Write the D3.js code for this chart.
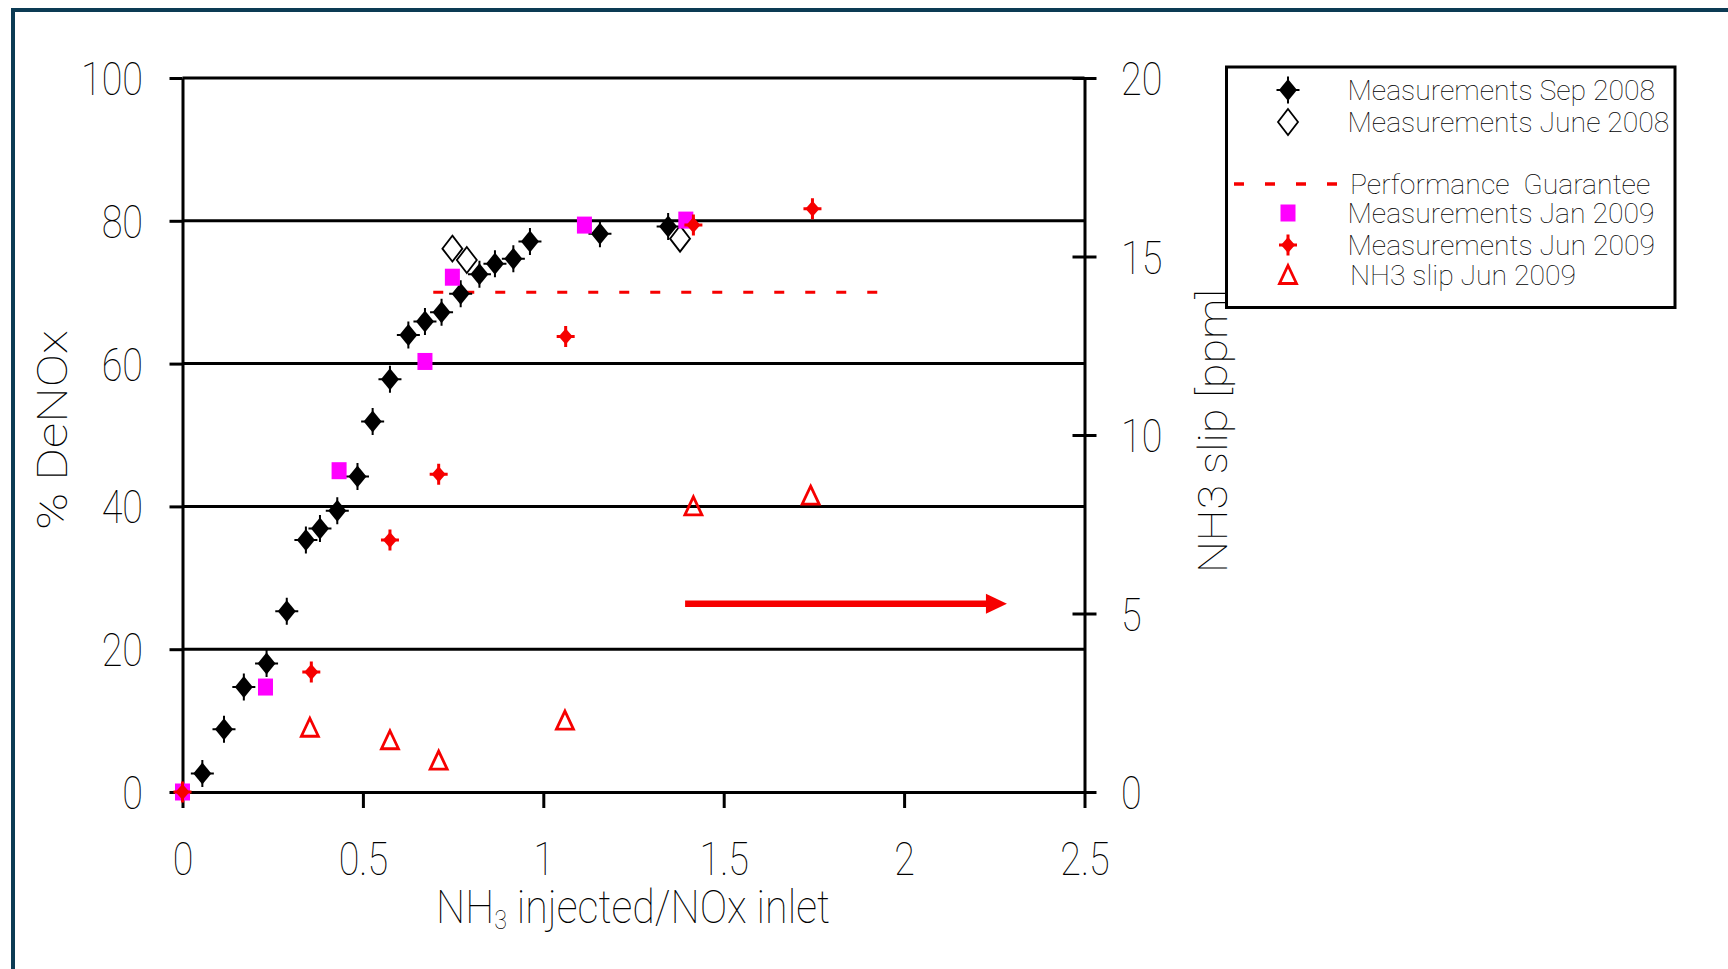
<!DOCTYPE html>
<html>
<head>
<meta charset="utf-8">
<script src="https://cdn.jsdelivr.net/npm/d3@7"></script>
<style>
  html, body { margin: 0; padding: 0; background: #fff; }
  svg text { font-family: Roboto, "Liberation Sans", Arial, sans-serif; font-weight: 100; fill: #000; }
</style>
</head>
<body>
<svg id="chart" width="1728" height="969"></svg>
<script>
// ---- data -------------------------------------------------------------
const xTicks = [0, 0.5, 1, 1.5, 2, 2.5];
const yTicks = [0, 20, 40, 60, 80, 100];
const slipTicks = [0, 5, 10, 15, 20];

// [NH3 injected / NOx inlet, % DeNOx]
const sep2008 = [[0.055, 2.6], [0.115, 8.8], [0.170, 14.7], [0.233, 18.0], [0.289, 25.3],
  [0.342, 35.3], [0.381, 36.9], [0.429, 39.4], [0.485, 44.2], [0.527, 51.9], [0.575, 57.8],
  [0.626, 64.0], [0.672, 65.9], [0.718, 67.2], [0.771, 69.8], [0.823, 72.5], [0.866, 74.0],
  [0.917, 74.7], [0.963, 77.1], [1.157, 78.2], [1.346, 79.2]];
const june2008 = [[0.748, 76.1], [0.788, 74.5], [1.379, 77.5]];
const jan2009 = [[0, 0], [0.230, 14.7], [0.434, 45.0], [0.672, 60.3], [0.748, 72.1],
  [1.114, 79.4], [1.395, 80.1]];
const jun2009 = [[0, 0], [0.357, 16.8], [0.575, 35.3], [0.710, 44.5], [1.062, 63.8],
  [1.416, 79.4], [1.746, 81.7]];
// [NH3 injected / NOx inlet, NH3 slip ppm]
const slipJun2009 = [[0.353, 1.8], [0.575, 1.45], [0.710, 0.88], [1.060, 2.0],
  [1.416, 8.0], [1.741, 8.3]];

const guaranteeDeNOx = 70;
const guaranteeRatio = [0.695, 1.94];
const slipArrowRatio = [1.393, 2.285];
const slipArrowLevel = 5.27;

const legendLabels = ["Measurements Sep 2008", "Measurements June 2008", "Performance  Guarantee",
  "Measurements Jan 2009", "Measurements Jun 2009", "NH3 slip Jun 2009"];

// ---- layout -----------------------------------------------------------
const svg = d3.select("#chart");
const RED = "#f60000", MAGENTA = "#ff00ff", FRAME = "#0c3b54";

const x = d3.scaleLinear().domain([0, 2.5]).range([182.5, 1084.5]);
const y = d3.scaleLinear().domain([0, 100]).range([792, 78]);
const ySlip = d3.scaleLinear().domain([0, 20]).range([792, 78]);

// outer frame (only top and left edges fall inside the page)
svg.append("rect").attr("x", 13).attr("y", 10).attr("width", 3000).attr("height", 3000)
  .attr("fill", "none").attr("stroke", FRAME).attr("stroke-width", 4);

// widest text of a selection, used to compress the narrow lettering
function widest(sel) {
  let w = 0;
  sel.each(function () { w = Math.max(w, this.getBBox().width); });
  return w;
}

// gridlines
svg.append("g").selectAll("line").data(yTicks.filter(d => d > 0)).join("line")
  .attr("x1", x(0)).attr("x2", x(2.5)).attr("y1", d => y(d)).attr("y2", d => y(d))
  .attr("stroke", "#000").attr("stroke-width", 3);

function styleAxis(g) {
  g.attr("font-family", null).attr("font-size", null);
  g.selectAll("path.domain").attr("stroke", "#000").attr("stroke-width", 3);
  g.selectAll(".tick line").attr("stroke", "#000").attr("stroke-width", 3);
  g.selectAll(".tick text").attr("font-size", 46);
}

// left axis
const gLeft = svg.append("g").attr("transform", `translate(${x(0)},0)`)
  .call(d3.axisLeft(y).tickValues(yTicks).tickSize(13).tickSizeOuter(0))
  .call(styleAxis);
const leftText = gLeft.selectAll(".tick text");
const kTick = 62 / widest(gLeft.selectAll(".tick text").filter(d => d === 100));
leftText.attr("dy", "0.36em").attr("transform", `scale(${kTick},1)`).attr("x", -39.5 / kTick);

// right axis (NH3 slip)
const gRight = svg.append("g").attr("transform", `translate(${x(2.5)},0)`)
  .call(d3.axisRight(ySlip).tickValues(slipTicks).tickSize(12).tickSizeOuter(0))
  .call(styleAxis);
gRight.selectAll(".tick line").attr("x1", -12);
gRight.selectAll(".tick text").attr("dy", "0.36em")
  .attr("transform", `scale(${kTick},1)`).attr("x", 36.5 / kTick);

// bottom axis
const gBottom = svg.append("g").attr("transform", `translate(0,${y(0)})`)
  .call(d3.axisBottom(x).tickValues(xTicks).tickSize(16).tickSizeOuter(0).tickFormat(d => String(d)))
  .call(styleAxis);
gBottom.selectAll(".tick text").attr("y", 83).attr("dy", 0)
  .attr("transform", `scale(${kTick},1)`);

// axis titles
const xTitle = svg.append("text").attr("text-anchor", "middle").attr("font-size", 46);
xTitle.append("tspan").text("NH");
xTitle.append("tspan").attr("font-size", 26).attr("dy", 6).text("3");
xTitle.append("tspan").attr("dy", -6).text(" injected/NOx inlet");
xTitle.attr("transform", `translate(633,923) scale(${394 / widest(xTitle)},1)`);

const yTitle = svg.append("text").attr("text-anchor", "middle").attr("font-size", 42)
  .text("% DeNOx");
yTitle.attr("transform", `translate(67,430) rotate(-90) scale(${200 / widest(yTitle)},1)`);

const slipTitle = svg.append("text").attr("text-anchor", "middle").attr("font-size", 41)
  .text("NH3 slip [ppm]");
slipTitle.attr("transform", `translate(1227,431) rotate(-90) scale(${284 / widest(slipTitle)},1)`);

// ---- marker glyphs ----------------------------------------------------
function blackDiamond(g) {
  g.append("path").attr("d", "M0,-11L9,0L0,11L-9,0Z").attr("fill", "#000");
  g.append("path").attr("d", "M-11.5,0H11.5M0,-13.5V13.5").attr("stroke", "#000").attr("stroke-width", 2);
}
function openDiamond(g) {
  g.append("path").attr("d", "M0,-13L10,0L0,13L-10,0Z").attr("fill", "none")
    .attr("stroke", "#000").attr("stroke-width", 1.8);
}
function magentaSquare(g) {
  g.append("rect").attr("x", -7.5).attr("y", -8.5).attr("width", 15).attr("height", 17)
    .attr("fill", MAGENTA);
}
function redDiamond(g) {
  g.append("path").attr("d", "M0,-8L7,0L0,8L-7,0Z").attr("fill", RED);
  g.append("path").attr("d", "M-9,0H9M0,-10.5V10.5").attr("stroke", RED).attr("stroke-width", 3);
}
function openTriangle(g) {
  g.append("path").attr("d", "M0,-9.5L8.5,8.5L-8.5,8.5Z").attr("fill", "none")
    .attr("stroke", RED).attr("stroke-width", 2.8).attr("stroke-linejoin", "miter");
}

// performance guarantee (drawn beneath the measurements)
svg.append("line")
  .attr("x1", x(guaranteeRatio[0])).attr("x2", x(guaranteeRatio[1]))
  .attr("y1", y(guaranteeDeNOx)).attr("y2", y(guaranteeDeNOx))
  .attr("stroke", RED).attr("stroke-width", 3).attr("stroke-dasharray", "10,21");

function plotSeries(data, yScale, glyph) {
  svg.append("g").selectAll("g").data(data).join("g")
    .attr("transform", d => `translate(${x(d[0])},${yScale(d[1])})`)
    .each(function () { glyph(d3.select(this)); });
}
plotSeries(june2008, y, openDiamond);
plotSeries(sep2008, y, blackDiamond);
plotSeries(jan2009, y, magentaSquare);
plotSeries(jun2009, y, redDiamond);
plotSeries(slipJun2009, ySlip, openTriangle);

// arrow pointing the slip triangles to the right-hand axis
const ax0 = x(slipArrowRatio[0]), ax1 = x(slipArrowRatio[1]), ay = ySlip(slipArrowLevel);
svg.append("line").attr("x1", ax0).attr("x2", ax1 - 19).attr("y1", ay).attr("y2", ay)
  .attr("stroke", RED).attr("stroke-width", 6.5);
svg.append("path").attr("d", `M${ax1},${ay}L${ax1 - 21},${ay - 10}L${ax1 - 21},${ay + 10}Z`)
  .attr("fill", RED);

// ---- legend -----------------------------------------------------------
const legend = svg.append("g");
legend.append("rect").attr("x", 1226.5).attr("y", 67).attr("width", 448.5).attr("height", 240.5)
  .attr("fill", "#fff").attr("stroke", "#000").attr("stroke-width", 3);
const rowY = [90, 122, 184, 213, 245, 275];
const legendGlyphs = [blackDiamond, openDiamond, null, magentaSquare, redDiamond, openTriangle];
legendLabels.forEach((label, i) => {
  const g = legend.append("g").attr("transform", `translate(1288,${rowY[i]})`);
  if (legendGlyphs[i]) legendGlyphs[i](g);
  else g.append("line").attr("x1", -54).attr("x2", 52).attr("stroke", RED)
    .attr("stroke-width", 3.5).attr("stroke-dasharray", "10,21");
});
const legendText = legend.selectAll("text.lbl").data(legendLabels).join("text")
  .attr("class", "lbl").attr("font-size", 28).attr("xml:space", "preserve")
  .text(d => d);
const kLegend = 322 / widest(legendText);
legendText.attr("transform", (d, i) =>
  `translate(${i === 2 || i === 5 ? 1350 : 1347.5},${rowY[i] + 10}) scale(${kLegend},1)`);
</script>
</body>
</html>
